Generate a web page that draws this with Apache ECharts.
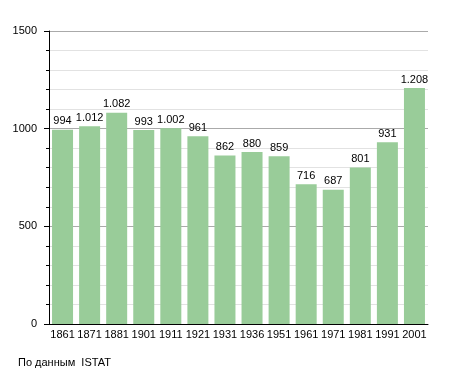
<!DOCTYPE html>
<html><head><meta charset="utf-8">
<script src="https://cdn.jsdelivr.net/npm/echarts@6/dist/echarts.min.js"></script>
<style>html,body{margin:0;padding:0;background:#fff}#c{width:455px;height:373px}</style>
</head><body><div id="c"></div>
<script>
const categories = ['1861','1871','1881','1901','1911','1921','1931','1936','1951','1961','1971','1981','1991','2001'];
const population = [994,1012,1082,993,1002,961,862,880,859,716,687,801,931,1208];
const yTicks = [0,500,1000,1500];
const sourceText = 'По данным  ISTAT';

const fmt = v => { const s = String(v); return s.length > 3 ? s.slice(0, s.length-3) + '.' + s.slice(-3) : s; };
const chart = echarts.init(document.getElementById('c'), null, {renderer:'canvas'});
chart.setOption({
  animation:false,
  textStyle:{fontFamily:'Liberation Sans, Arial, sans-serif'},
  grid:{left:49,right:27,top:31,bottom:49},
  graphic:[{type:'text',left:18,top:357,style:{text:sourceText,fontSize:11,fill:'#000',fontFamily:'Liberation Sans, Arial, sans-serif'}}],
  xAxis:{type:'category',data:categories,
    axisLine:{lineStyle:{color:'#000',width:1}},
    axisTick:{show:false},
    axisLabel:{color:'#000',fontSize:11,margin:5,interval:0}},
  yAxis:{type:'value',min:0,max:1500,interval:500,
    axisLine:{show:true,lineStyle:{color:'#000',width:1}},
    axisTick:{show:true,length:5,lineStyle:{color:'#000'}},
    minorTick:{show:true,splitNumber:5,length:3,lineStyle:{color:'#000'}},
    splitLine:{show:true,lineStyle:{color:'#aaa',width:1}},
    minorSplitLine:{show:true,lineStyle:{color:'#e2e2e2',width:1}},
    axisLabel:{color:'#000',fontSize:11,margin:12,formatter:v=>String(v)}},
  series:[{type:'bar',data:population,barWidth:21,
    itemStyle:{color:'#99cc99'},
    label:{show:true,position:'top',color:'#000',fontSize:11,distance:3,formatter:p=>fmt(p.value)}}]
});
</script></body></html>
